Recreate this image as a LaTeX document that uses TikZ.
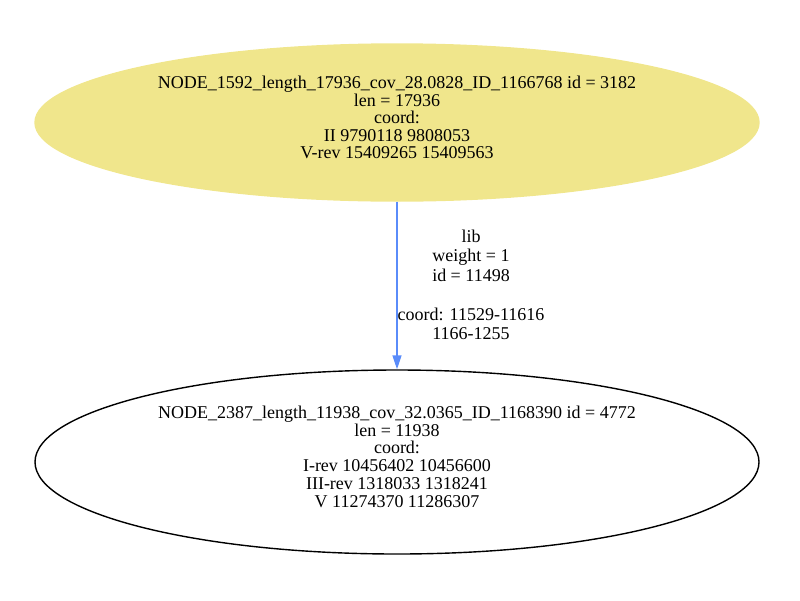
\documentclass[tikz,border=0pt]{standalone}
\usepackage{fontspec}
\setmainfont{Liberation Serif}
\usepackage{tikz}
\usetikzlibrary{shapes.geometric, arrows.meta, positioning}

\definecolor{nodekhaki}{RGB}{240,230,140}
\definecolor{edgeblue}{RGB}{90,140,250}

\tikzset{
    contig/.style={ellipse, draw, line width=1.4pt, inner sep=0pt,
        minimum width=724pt, align=center,
        font=\fontsize{18}{17.8}\selectfont},
    edgelabel/.style={align=center, font=\fontsize{18}{19.5}\selectfont},
    edgeline/.style={edgeblue, line width=1.5pt,
        -{Triangle[length=14pt,width=9pt]}}
}

\begin{document}
\begin{tikzpicture}[x=1pt, y=-1pt]
            \useasboundingbox (0,0) rectangle (800,600);

            % contigs
            \node[contig, draw=nodekhaki, fill=nodekhaki, minimum height=157pt,
                  text depth=10pt, font=\fontsize{18}{17.5}\selectfont] (n3182) at (397,122.5)
                {NODE\_1592\_length\_17936\_cov\_28.0828\_ID\_1166768 id = 3182\\
                 len = 17936\\ coord:\\ II 9790118 9808053\\ V-rev 15409265 15409563};
            \node[contig, minimum height=184pt, text depth=11pt] (n4772) at (397,462)
                {NODE\_2387\_length\_11938\_cov\_32.0365\_ID\_1168390 id = 4772\\
                 len = 11938\\ coord:\\ I-rev 10456402 10456600\\
                 III-rev 1318033 1318241\\ V 11274370 11286307};

            % link between them
            \draw[edgeline] (n3182) -- (n4772);
            \node[edgelabel] (e11498) at (471,285)
                {lib\\ weight = 1\\ id = 11498\\ \\ coord: 11529-11616\\ 1166-1255};
\end{tikzpicture}
\end{document}
